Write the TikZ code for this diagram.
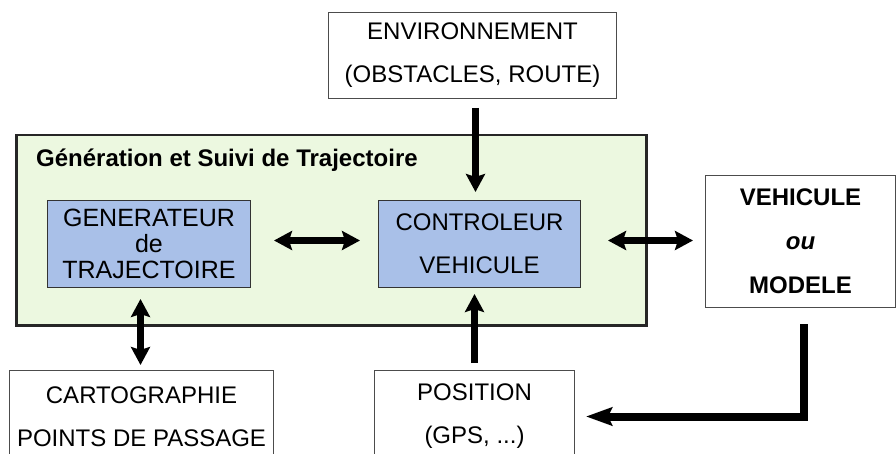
\documentclass[tikz,border=0pt]{standalone}
\usepackage{fontspec}
\setmainfont{Liberation Sans}
\usetikzlibrary{arrows.meta}
\definecolor{groupfill}{HTML}{ECF8E0}
\definecolor{unitfill}{HTML}{A9C0E8}
\begin{document}
\begin{tikzpicture}[x=1pt,y=-1pt,
  plainbox/.style={draw=black!70, line width=1pt, fill=white, inner sep=0pt,
    anchor=north west, align=center, font=\fontsize{24}{43}\selectfont},
  unitbox/.style={draw=black!80, line width=1pt, fill=unitfill, inner sep=0pt,
    anchor=north west, align=center},
  groupbox/.style={draw=black!85, line width=2.5pt, fill=groupfill, inner sep=0pt,
    anchor=north west},
  flow/.style={line width=6.5pt, -{Stealth[length=18pt,width=19pt,inset=3pt]}},
  both/.style={line width=6.5pt, {Stealth[length=18pt,width=19pt,inset=3pt]}-{Stealth[length=18pt,width=19pt,inset=3pt]}},
  feedback/.style={line width=8pt, -{Stealth[length=26pt,width=18pt,inset=4pt]}}]
\useasboundingbox (0,0) rectangle (896,454);

% outer block
\node[groupbox, minimum width=630pt, minimum height=190pt] (grp) at (15,134) {};
\node[font=\fontsize{24}{28}\selectfont\bfseries, anchor=base west, inner sep=0pt]
  (title) at (36,167) {Génération et Suivi de Trajectoire};

% inner units
\node[unitbox, minimum width=203pt, minimum height=87pt,
  font=\fontsize{25}{26}\selectfont] (gen) at (47,200)
  {GENERATEUR\\de\\TRAJECTOIRE};
\node[unitbox, minimum width=202pt, minimum height=87pt,
  font=\fontsize{24}{43}\selectfont] (ctrl) at (378,200)
  {CONTROLEUR\\VEHICULE};

% external blocks
\node[plainbox, minimum width=288pt, minimum height=86pt] (env) at (328,12)
  {ENVIRONNEMENT\\(OBSTACLES, ROUTE)};
\node[plainbox, minimum width=190pt, minimum height=132pt,
  font=\fontsize{24}{44}\selectfont\bfseries] (veh) at (705,175)
  {VEHICULE\\\textit{ou}\\MODELE};
\node[plainbox, minimum width=264pt, minimum height=92pt] (cart) at (9,370)
  {CARTOGRAPHIE\\POINTS DE PASSAGE};
\node[plainbox, minimum width=200pt, minimum height=92pt] (pos) at (374,370)
  {POSITION\\(GPS, ...)};

% connectors
\draw[flow, shorten <=9pt, shorten >=8pt] ([xshift=3pt]env.south) -- ([xshift=3pt]env.south |- ctrl.north);
\draw[both, shorten <=23pt, shorten >=18pt] ([yshift=3.5pt]gen.east) -- ([yshift=3.5pt]ctrl.west);
\draw[both, shorten <=27pt, shorten >=12pt] ([yshift=3.5pt]ctrl.east) -- ([yshift=3.5pt]ctrl.east -| veh.west);
\draw[both, shorten <=11pt, shorten >=5pt] ([xshift=-8.5pt]gen.south) -- ([xshift=-8.5pt]gen.south |- cart.north);
\draw[flow, shorten <=7pt, shorten >=6pt] (pos.north) -- (pos.north |- ctrl.south);
\draw[feedback, shorten >=11pt] ([xshift=3pt,yshift=-16pt]veh.south) |- (pos.east);
\end{tikzpicture}
\end{document}
